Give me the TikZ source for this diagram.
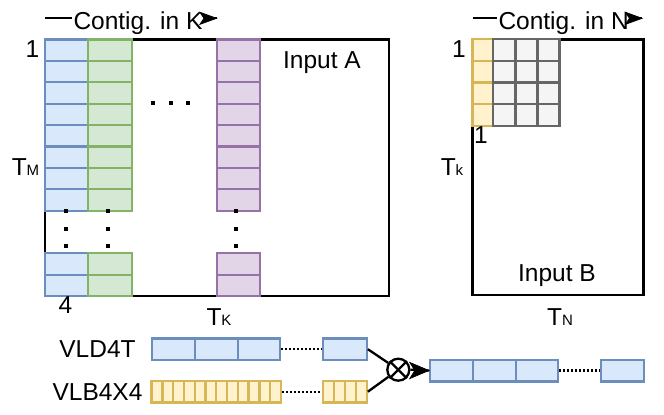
\documentclass[tikz,border=0pt]{standalone}
\usepackage{fontspec}
\setmainfont{Liberation Sans}
\usetikzlibrary{arrows.meta}
\definecolor{bfill}{HTML}{DAE8FC}\definecolor{bdraw}{HTML}{6C8EBF}
\definecolor{gfill}{HTML}{D5E8D4}\definecolor{gdraw}{HTML}{82B366}
\definecolor{pfill}{HTML}{E1D5E7}\definecolor{pdraw}{HTML}{9673A6}
\definecolor{yfill}{HTML}{FFF2CC}\definecolor{ydraw}{HTML}{D6B656}
\definecolor{kfill}{HTML}{F5F5F5}\definecolor{kdraw}{HTML}{666666}
\newcommand\smallsub[1]{{\fontsize{15}{17}\selectfont #1}}
\begin{document}
\begin{tikzpicture}[x=1pt,y=-1pt,
  lbl/.style={inner sep=0pt, anchor=base, font=\fontsize{24.5}{28}\selectfont},
  bcell/.style={fill=bfill, draw=bdraw, line width=2.3pt},
  gcell/.style={fill=gfill, draw=gdraw, line width=2.3pt},
  pcell/.style={fill=pfill, draw=pdraw, line width=2.3pt},
  ycell/.style={fill=yfill, draw=ydraw, line width=2.3pt},
  kcell/.style={fill=kfill, draw=kdraw, line width=2.3pt},
  bnode/.style={bcell, rectangle, inner sep=0pt, minimum height=21.7pt},
  ynode/.style={ycell, rectangle, inner sep=0pt, minimum height=21.3pt, minimum width=10.9pt},
  frame/.style={draw=black, line width=2.4pt},
  wire/.style={line width=2.3pt},
  dotwire/.style={line width=2.3pt, dash pattern=on 2pt off 2pt},
  headfill/.style={fill=black, draw=black, line width=0.8pt, line join=miter},
  dotsq/.style={fill=black}
]
\useasboundingbox (0,0) rectangle (664,415);

% ---------------- Input A ----------------
\draw[frame] (45,39.5) rectangle (389,296);
\foreach \i in {0,...,7}{
  \draw[bcell] (45,{39.5+21.4*\i}) rectangle (88.3,{39.5+21.4*(\i+1)});
  \draw[gcell] (88.3,{39.5+21.4*\i}) rectangle (131.7,{39.5+21.4*(\i+1)});
  \draw[pcell] (216.7,{39.5+21.4*\i}) rectangle (260,{39.5+21.4*(\i+1)});
}
\foreach \i in {0,1}{
  \draw[bcell] (45,{253.3+21.4*\i}) rectangle (88.3,{253.3+21.4*(\i+1)});
  \draw[gcell] (88.3,{253.3+21.4*\i}) rectangle (131.7,{253.3+21.4*(\i+1)});
  \draw[pcell] (216.7,{253.3+21.4*\i}) rectangle (260,{253.3+21.4*(\i+1)});
}
% horizontal dots
\foreach \x in {153.3,170.5,187.7}{\fill[dotsq] (\x,102.7) +(-2,-2) rectangle +(2,2);}
% vertical dots
\foreach \x in {66.3,108.3,236.2}{
  \foreach \y in {211,228.7,245.7}{\fill[dotsq] (\x,\y) +(-2,-2) rectangle +(2,2);}
}
\node[lbl] (a1) at (32.5,57) {1};
\node[lbl] (atm) at (25.5,175) {T\smallsub{M}};
\node[lbl] (a4) at (65.5,313) {4};
\node[lbl] (atk) at (219,325) {T\smallsub{K}};
\node[lbl] (ain) at (322,68.3) {Input A};

% Contig. in K
\coordinate (ka) at (45,18.3);
\coordinate (kb) at (216.5,18.3);
\draw[wire] (ka) -- (kb);
\node[lbl, anchor=base west, inner xsep=2pt, fill=white] (ktext) at (71.3,29) {Contig. in K};
\filldraw[headfill] (kb) -- +(-16.5,-6) -- +(-12.5,0) -- +(-16.5,6) -- cycle;

% ---------------- Input B ----------------
\draw[frame] (472.5,39.5) rectangle (643.3,295);
\foreach \i in {0,...,3}{
  \draw[ycell] (472.5,{39.3+21.6*\i}) rectangle (493.3,{39.3+21.6*(\i+1)});
  \foreach \x/\xx in {493.3/515.5,515.5/537.5,537.5/559.5}{
    \draw[kcell] (\x,{39.3+21.6*\i}) rectangle (\xx,{39.3+21.6*(\i+1)});
  }
}
\node[lbl] (b1) at (459,57) {1};
\node[lbl] (b1b) at (481,143) {1};
\node[lbl] (btk) at (452,175) {T\smallsub{k}};
\node[lbl] (bin) at (557,281.7) {Input B};
\node[lbl] (btn) at (560,325) {T\smallsub{N}};

% Contig. in N
\coordinate (na) at (472.5,18.3);
\coordinate (nb) at (642,18.3);
\draw[wire] (na) -- (nb);
\node[lbl, anchor=base west, inner xsep=2pt, fill=white] (ntext) at (496.3,29) {Contig. in N};
\filldraw[headfill] (nb) -- +(-16.5,-6) -- +(-12.5,0) -- +(-16.5,6) -- cycle;

% ---------------- bottom vectors ----------------
\node[lbl] (vldl) at (97.5,357.7) {VLD4T};
\node[lbl] (vlbl) at (97.5,400) {VLB4X4};

\node[bnode, minimum width=43.3pt] (d1) at (173.35,349.2) {};
\node[bnode, minimum width=43pt] (d2) at (216.5,349.2) {};
\node[bnode, minimum width=42pt] (d3) at (259,349.2) {};
\node[bnode, minimum width=44pt] (dl) at (344.7,349.2) {};
\draw[dotwire] (d3.east) -- (dl.west);

\foreach \i in {1,...,12}{
  \node[ynode] (y\i) at ({151.7+10.775*(\i-0.5)},391.7) {};
}
\foreach \i in {1,...,4}{
  \node[ynode, minimum width=11pt] (z\i) at ({322.7+11*(\i-0.5)},391.7) {};
}
\draw[dotwire] (y12.east) -- (z1.west);

\node[circle, draw, line width=2.3pt, minimum size=22pt, inner sep=0pt] (mul) at (398.3,369.7) {};
\draw[wire] (mul.north west) -- (mul.south east);
\draw[wire] (mul.north east) -- (mul.south west);
\draw[wire] (dl.east) -- (mul);
\draw[wire] (z4.east) -- (mul);

\node[bnode, minimum width=42.7pt] (o1) at (451.35,370.5) {};
\node[bnode, minimum width=43pt] (o2) at (494.2,370.5) {};
\node[bnode, minimum width=42.6pt] (o3) at (537,370.5) {};
\node[bnode, minimum width=43.3pt] (ol) at (622.35,370.5) {};
\draw[dotwire] (o3.east) -- (ol.west);
\draw[wire] (mul.east) -- (o1.west);
\filldraw[headfill] (o1.west) -- +(-19,-8) -- +(-14,0) -- +(-19,8) -- cycle;
\end{tikzpicture}
\end{document}
